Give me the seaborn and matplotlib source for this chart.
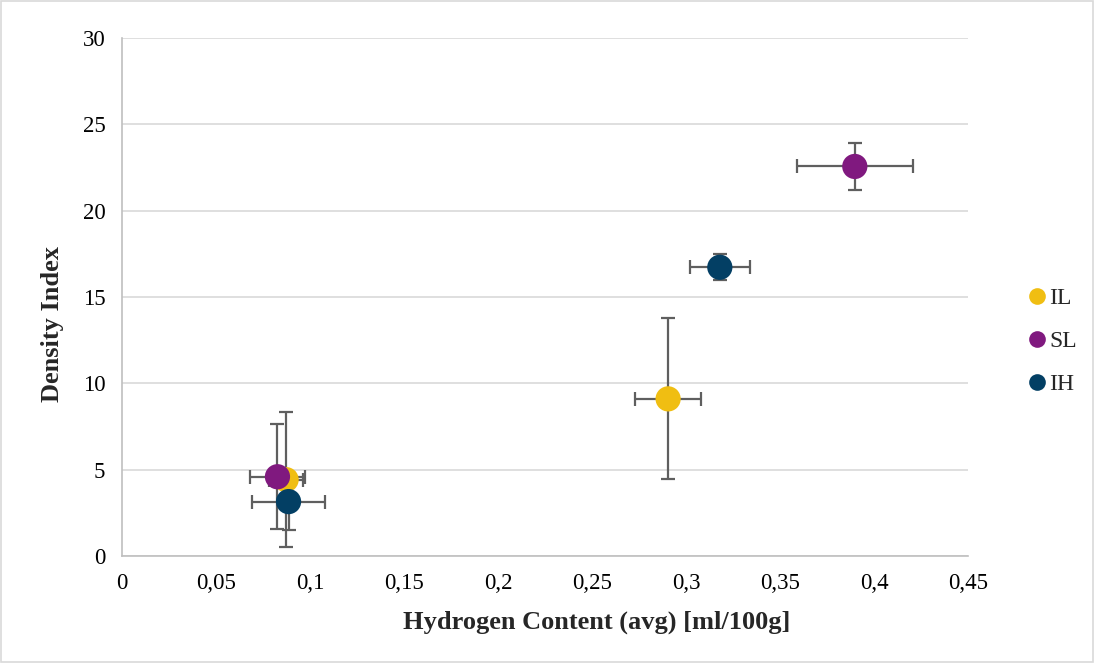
import matplotlib
matplotlib.use("Agg")
import matplotlib.pyplot as plt
import seaborn as sns
import pandas as pd
from matplotlib.patches import Rectangle
from matplotlib.lines import Line2D

# Data
series = ["IL", "IL", "SL", "SL", "IH", "IH"]
hydrogen = [0.0873, 0.2905, 0.0827, 0.3898, 0.0886, 0.318]
density = [4.42, 9.1, 4.59, 22.56, 3.15, 16.72]
x_err = [0.009, 0.0176, 0.0146, 0.031, 0.0194, 0.016]
y_err = [3.9, 4.66, 3.03, 1.36, 1.65, 0.75]
x_ticks = [0, 0.05, 0.1, 0.15, 0.2, 0.25, 0.3, 0.35, 0.4, 0.45]
x_tick_labels = ["0", "0,05", "0,1", "0,15", "0,2", "0,25", "0,3", "0,35", "0,4", "0,45"]
y_ticks = [0, 5, 10, 15, 20, 25, 30]
order = ["IL", "SL", "IH"]
colors = {"IL": "#F0BE12", "SL": "#80197F", "IH": "#033F64"}

df = pd.DataFrame({"series": series, "x": hydrogen, "y": density,
                   "xe": x_err, "ye": y_err})

sns.set_theme(style="white")
plt.rcParams["font.family"] = ["Liberation Serif", "DejaVu Serif"]

fig = plt.figure(figsize=(10.95, 6.63), dpi=100)
ax = fig.add_axes([0.1114, 0.1614, 0.884 - 0.1114, 0.9427 - 0.1614])

for s in order:
    d = df[df.series == s]
    ax.errorbar(d.x, d.y, xerr=d.xe, yerr=d.ye, fmt="none", ecolor="#5F5F5F",
                elinewidth=1.6, capsize=5, capthick=1.6, zorder=2)

sns.scatterplot(data=df, x="x", y="y", hue="series", hue_order=order,
                palette=colors, s=330, edgecolor="none", legend=False,
                ax=ax, zorder=3)

ax.set_xlim(0, 0.45)
ax.set_ylim(0, 30)
ax.set_xticks(x_ticks)
ax.set_xticklabels(x_tick_labels)
ax.set_yticks(y_ticks)
ax.tick_params(axis="both", labelsize=16.5, length=0, colors="black", pad=12)
ax.yaxis.grid(True, color="#D9D9D9", linewidth=1.2)
ax.xaxis.grid(False)
for side in ["top", "right"]:
    ax.spines[side].set_visible(False)
for side in ["left", "bottom"]:
    ax.spines[side].set_color("#BFBFBF")
    ax.spines[side].set_linewidth(1.2)
ax.set_xlabel("Hydrogen Content (avg) [ml/100g]", fontsize=19, fontweight="bold")
ax.set_ylabel("Density Index", fontsize=19, fontweight="bold")
ax.xaxis.set_label_coords(0.561, -0.106)
ax.yaxis.set_label_coords(-0.069, 0.448)

handles = [Line2D([0], [0], marker="o", linestyle="none", markersize=12,
                  markerfacecolor=colors[s], markeredgecolor="none", label=s)
           for s in order]
fig.legend(handles=handles, loc="center left", bbox_to_anchor=(0.917, 0.485),
           frameon=False, fontsize=17, handletextpad=0.0, labelspacing=0.9,
           handlelength=1.0)

fig.patches.append(Rectangle((0.001, 0.001), 0.997, 0.997, transform=fig.transFigure,
                             fill=False, edgecolor="#D9D9D9", linewidth=1.2))

fig.savefig("out.png", dpi=100)
